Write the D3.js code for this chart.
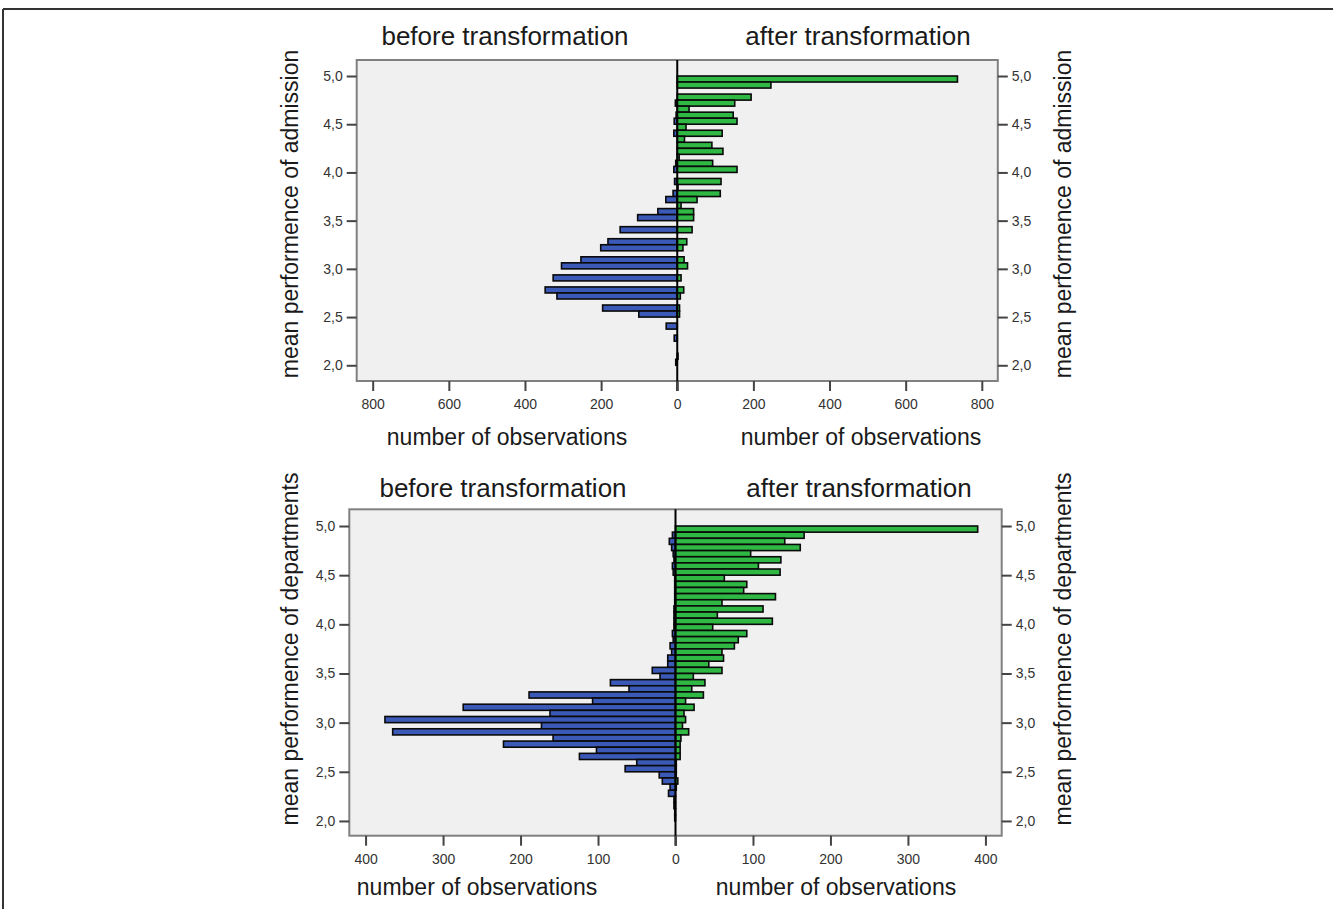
<!DOCTYPE html>
<html><head><meta charset="utf-8">
<script src="https://cdn.jsdelivr.net/npm/d3@7/dist/d3.min.js"></script>
<style>
html,body{margin:0;padding:0;background:#fff;}
svg{display:block;font-family:"Liberation Sans",Arial,sans-serif;}
</style></head>
<body>
<svg id="chart" width="1333" height="909"></svg>
<script>
// Bin upper edges (mean performance), top to bottom; each bin is 1/16 wide
const binTops = [5.0,4.9375,4.875,4.8125,4.75,4.6875,4.625,4.5625,4.5,4.4375,4.375,4.3125,4.25,4.1875,4.125,4.0625,
  4.0,3.9375,3.875,3.8125,3.75,3.6875,3.625,3.5625,3.5,3.4375,3.375,3.3125,3.25,3.1875,3.125,3.0625,
  3.0,2.9375,2.875,2.8125,2.75,2.6875,2.625,2.5625,2.5,2.4375,2.375,2.3125,2.25,2.1875,2.125,2.0625];
const binWidth = 0.0625;

// Admission: number of observations per bin
const admissionBefore = [0,0,0,0,5,0,3,8,0,9,0,0,0,0,4,9,0,7,0,11,30,0,51,104,0,150,0,182,201,0,253,304,0,326,0,347,316,0,196,101,0,29,0,8,0,0,0,4];
const admissionAfter  = [736,246,0,194,151,31,147,157,23,118,19,91,120,5,93,157,0,115,2,113,52,10,43,43,0,39,0,25,15,0,18,27,0,10,0,17,8,0,6,6,0,0,0,0,0,0,2,0];

// Departments: number of observations per bin
const departmentsBefore = [0,4,8,5,3,2,4,3,1,1,1,1,1,2,2,2,2,4,3,7,5,10,10,30,20,84,60,189,107,274,162,375,173,365,158,222,102,124,50,65,21,17,7,9,2,2,1,1];
const departmentsAfter  = [390,166,141,161,97,136,107,135,63,92,88,129,60,113,54,125,48,92,81,76,60,62,43,60,23,38,21,36,13,24,11,13,9,17,7,6,6,6,1,1,1,3,1,0,0,0,0,0];

const yTicks = [2.0,2.5,3.0,3.5,4.0,4.5,5.0];
const yTickLabels = ["2,0","2,5","3,0","3,5","4,0","4,5","5,0"];
const xTicksTop = [-800,-600,-400,-200,0,200,400,600,800];
const xTicksBottom = [-400,-300,-200,-100,0,100,200,300,400];

const titleBefore = "before transformation";
const titleAfter = "after transformation";
const xTitle = "number of observations";
const yTitleTop = "mean performence of admission";
const yTitleBottom = "mean performence of departments";

const BLUE = "#3b5ab8", GREEN = "#30b845";
const svg = d3.select("#chart");

// page frame lines
svg.append("line").attr("x1",3).attr("x2",1333).attr("y1",9).attr("y2",9).attr("stroke","#333").attr("stroke-width",2);
svg.append("line").attr("x1",3).attr("x2",3).attr("y1",9).attr("y2",909).attr("stroke","#333").attr("stroke-width",2);

function panel(cfg){
  const x = d3.scaleLinear().domain(cfg.xDomain).range([cfg.left, cfg.right]);
  const y = d3.scaleLinear().domain(cfg.yDomain).range([cfg.top, cfg.bottom]);
  const g = svg.append("g");
  g.append("rect").attr("x",cfg.left).attr("y",cfg.top)
    .attr("width",cfg.right-cfg.left).attr("height",cfg.bottom-cfg.top)
    .attr("fill","#f0f0f0").attr("stroke","#808080").attr("stroke-width",2);

  const rows = binTops.map((t,i)=>({t, before:cfg.before[i], after:cfg.after[i]}));
  g.selectAll("rect.b").data(rows.filter(d=>d.before>0)).join("rect").attr("class","b")
    .attr("x",d=>x(-d.before)).attr("width",d=>x(0)-x(-d.before))
    .attr("y",d=>y(d.t)).attr("height",d=>y(d.t-binWidth)-y(d.t))
    .attr("fill",BLUE).attr("stroke","#0a0a0a").attr("stroke-width",1.6);
  g.selectAll("rect.a").data(rows.filter(d=>d.after>0)).join("rect").attr("class","a")
    .attr("x",x(0)).attr("width",d=>x(d.after)-x(0))
    .attr("y",d=>y(d.t)).attr("height",d=>y(d.t-binWidth)-y(d.t))
    .attr("fill",GREEN).attr("stroke","#0a0a0a").attr("stroke-width",1.6);

  // zero line
  g.append("line").attr("x1",x(0)).attr("x2",x(0)).attr("y1",cfg.top).attr("y2",cfg.bottom+10)
    .attr("stroke","#000").attr("stroke-width",2);

  // y axes (left and right)
  const yl = g.append("g").attr("transform",`translate(${cfg.left},0)`)
    .call(d3.axisLeft(y).tickValues(yTicks).tickSize(10).tickPadding(4).tickFormat((d,i)=>yTickLabels[i]));
  const yr = g.append("g").attr("transform",`translate(${cfg.right},0)`)
    .call(d3.axisRight(y).tickValues(yTicks).tickSize(10).tickPadding(4).tickFormat((d,i)=>yTickLabels[i]));
  // x axis
  const xa = g.append("g").attr("transform",`translate(0,${cfg.bottom})`)
    .call(d3.axisBottom(x).tickValues(cfg.xTicks).tickSize(10).tickPadding(8).tickFormat(d=>Math.abs(d)));
  [yl,yr,xa].forEach(a=>{
    a.select(".domain").remove();
    a.selectAll(".tick line").attr("stroke","#444").attr("stroke-width",2);
    a.selectAll(".tick text").attr("fill","#333").style("font-size","14px");
  });

  // titles
  const tstyle = s=>s.attr("text-anchor","middle").attr("fill","#1a1a1a");
  g.append("text").text(titleBefore).attr("x",cfg.tbx).attr("y",cfg.ty).style("font-size","26px").call(tstyle);
  g.append("text").text(titleAfter).attr("x",cfg.tax).attr("y",cfg.ty).style("font-size","26px").call(tstyle);
  g.append("text").text(xTitle).attr("x",cfg.xbx).attr("y",cfg.xty).style("font-size","23px").call(tstyle);
  g.append("text").text(xTitle).attr("x",cfg.xax).attr("y",cfg.xty).style("font-size","23px").call(tstyle);
  const cy = cfg.ycy;
  g.append("text").text(cfg.yTitle).attr("transform",`translate(298,${cy}) rotate(-90)`).style("font-size","23px").call(tstyle);
  g.append("text").text(cfg.yTitle).attr("transform",`translate(1071,${cy}) rotate(-90)`).style("font-size","23px").call(tstyle);
}

panel({left:356.7,right:997.8,top:60,bottom:381,xDomain:[-842,842],yDomain:[5.166,1.837],
  before:admissionBefore,after:admissionAfter,xTicks:xTicksTop,
  tbx:505,tax:858,ty:45,xbx:507,xax:861,xty:445,ycy:214,yTitle:yTitleTop});
panel({left:349.3,right:1001.7,top:509.3,bottom:835.7,xDomain:[-421,421],yDomain:[5.17,1.85],
  before:departmentsBefore,after:departmentsAfter,xTicks:xTicksBottom,
  tbx:503,tax:859,ty:497,xbx:477,xax:836,xty:895,ycy:649,yTitle:yTitleBottom});
</script>
</body></html>
